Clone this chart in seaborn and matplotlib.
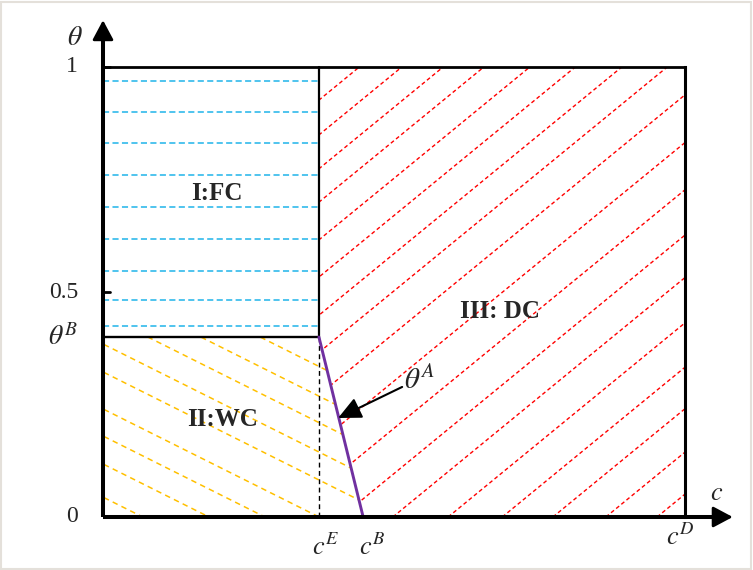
import numpy as np
import pandas as pd
import matplotlib
matplotlib.use("Agg")
import matplotlib.pyplot as plt
from matplotlib.patches import Polygon, Rectangle
import seaborn as sns

# ---------------- data (normalised c with c^D = 1) ----------------
c_E = 0.371
c_B = 0.447
c_D = 1.0
theta_B = 0.40
theta_ticks = [0, 0.5, 1]
theta_tick_labels = ["0", "0.5", "1"]

# hatch line data
blue_thetas = [0.969, 0.900, 0.831, 0.760, 0.689, 0.618, 0.547, 0.482, 0.424]
red_slope = 1.06            # dθ/dc of region III hatch
red_c0 = [-0.503, -0.430, -0.359, -0.289, -0.210, -0.132, -0.052, 0.026,
          0.115, 0.215, 0.314, 0.409, 0.498, 0.593, 0.686, 0.773, 0.864, 0.952]
orange_slope = -0.647       # dθ/dc of region II hatch
orange_c1 = [-0.550, -0.436, -0.340, -0.247, -0.120, -0.024, 0.077, 0.168, 0.270]

region_labels = ["I:FC", "II:WC", "III: DC"]

# ---------------- style ----------------
sns.set_theme(style="white")
plt.rcParams["font.family"] = ["Liberation Serif", "DejaVu Serif"]
plt.rcParams["mathtext.fontset"] = "stix"

fig = plt.figure(figsize=(7.53, 5.70), dpi=100)
ax = fig.add_axes([0, 0, 1, 1])
ax.set_xlim(-103 / 582, 650 / 582)
ax.set_ylim(-53 / 450, 517 / 450)
ax.axis("off")

# frame around figure
fig.patches.append(Rectangle((0.001, 0.002), 0.997, 0.995, transform=fig.transFigure,
                             fill=False, edgecolor="#E4E0DA", lw=1.5))

# ---------------- region hatches ----------------
polyI = Polygon([(0, theta_B), (c_E, theta_B), (c_E, 1), (0, 1)], closed=True,
                transform=ax.transData)
polyII = Polygon([(0, 0), (c_B, 0), (c_E, theta_B), (0, theta_B)], closed=True,
                 transform=ax.transData)
polyIII = Polygon([(c_B, 0), (c_D, 0), (c_D, 1), (c_E, 1), (c_E, theta_B)], closed=True,
                  transform=ax.transData)

for t in blue_thetas:
    ax.plot([0, c_E], [t, t], color="#1FB4EA", lw=1.1, dashes=(4.0, 2.2), zorder=1)

for c0 in red_c0:
    cs = np.array([c0, c0 + 1.2 / red_slope])
    ln, = ax.plot(cs, red_slope * (cs - c0), color="#FF0000", lw=1.0,
                  dashes=(2.8, 2.0), zorder=1)
    ln.set_clip_path(polyIII)

for c1 in orange_c1:
    cs = np.array([c1 - 0.3, c1 + 1.0])
    ln, = ax.plot(cs, theta_B + orange_slope * (cs - c1), color="#FFC000", lw=1.1,
                  dashes=(3.6, 2.8), zorder=1)
    ln.set_clip_path(polyII)

# ---------------- boundaries ----------------
ax.plot([0, c_D], [1, 1], color="black", lw=2.0, zorder=3, solid_capstyle="projecting")
ax.plot([c_D, c_D], [0, 1], color="black", lw=2.2, zorder=3, solid_capstyle="projecting")
ax.plot([c_E, c_E], [theta_B, 1], color="black", lw=1.6, zorder=3)
ax.plot([0, c_E], [theta_B, theta_B], color="black", lw=1.7, zorder=3)
ax.plot([c_E, c_E], [0, theta_B], color="black", lw=1.0, dashes=(3.5, 2.5), zorder=3)

purple = pd.DataFrame({"c": [c_E, c_B], "theta": [theta_B, 0]})
sns.lineplot(data=purple, x="c", y="theta", color="#7030A0", lw=2.1, ax=ax,
             estimator=None, sort=False, zorder=4)

# ---------------- axes with arrows ----------------
ax.plot([0, 1.06], [0, 0], color="black", lw=2.9, zorder=5, solid_capstyle="butt")
ax.plot([0, 0], [0, 1.08], color="black", lw=2.9, zorder=5, solid_capstyle="butt")
ax.annotate("", xy=(1.082, 0), xytext=(1.0, 0),
            arrowprops=dict(arrowstyle="-|>,head_length=0.6,head_width=0.32",
                            color="black", lw=2.0, shrinkA=0, shrinkB=0,
                            mutation_scale=20), zorder=6)
ax.annotate("", xy=(0, 1.104), xytext=(0, 1.0),
            arrowprops=dict(arrowstyle="-|>,head_length=0.6,head_width=0.32",
                            color="black", lw=2.0, shrinkA=0, shrinkB=0,
                            mutation_scale=20), zorder=6)

for t in theta_ticks[1:]:
    ax.plot([0, 0.012], [t, t], color="black", lw=2.0, zorder=5)

# ---------------- texts ----------------
tick_x = -0.043
for t, lab in zip(theta_ticks, theta_tick_labels):
    ax.text(tick_x, t, lab, ha="right", va="center", fontsize=17)
ax.text(tick_x, theta_B, r"$\theta^{B}$", ha="right", va="center", fontsize=20)
ax.text(-0.048, 1.064, r"$\theta$", ha="center", va="center", fontsize=20)
ax.text(1.055, 0.051, r"$c$", ha="center", va="center", fontsize=19)
ax.text(c_E + 0.012, -0.067, r"$c^{E}$", ha="center", va="center", fontsize=19)
ax.text(c_B + 0.015, -0.067, r"$c^{B}$", ha="center", va="center", fontsize=19)
ax.text(c_D - 0.009, -0.044, r"$c^{D}$", ha="center", va="center", fontsize=19)

ax.text(0.196, 0.72, region_labels[0], ha="center", va="center", fontsize=18,
        fontweight="bold")
ax.text(0.206, 0.216, region_labels[1], ha="center", va="center", fontsize=18,
        fontweight="bold")
ax.text(0.682, 0.456, region_labels[2], ha="center", va="center", fontsize=18,
        fontweight="bold")

ax.text(0.517, 0.302, r"$\theta^{A}$", ha="left", va="center", fontsize=21)
ax.annotate("", xy=(0.404, 0.22), xytext=(0.514, 0.289),
            arrowprops=dict(arrowstyle="-|>,head_length=0.7,head_width=0.33",
                            color="black", lw=1.5, shrinkA=0, shrinkB=0,
                            mutation_scale=20), zorder=6)

fig.savefig("out.png", dpi=100)
